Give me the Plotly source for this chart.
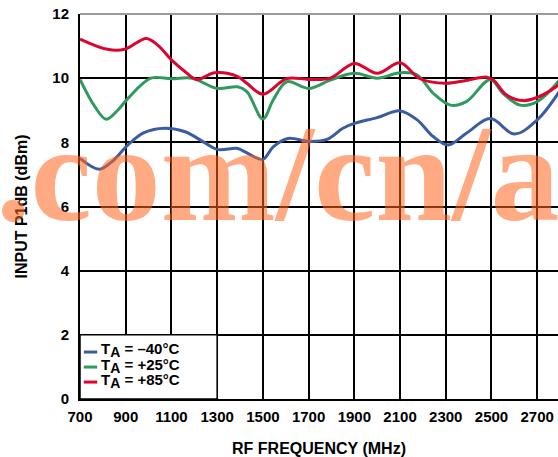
import plotly.graph_objects as go

# RF frequency (MHz) and input P1dB (dBm)
freq_m40 = [700, 785, 840, 910, 980, 1070, 1160, 1245, 1300, 1390, 1420, 1500, 1545, 1610,
            1700, 1780, 1850, 1900, 2000, 2100, 2175, 2245, 2310, 2390, 2495, 2600, 2700, 2800]
p1db_m40 = [7.50, 7.16, 7.40, 7.92, 8.30, 8.44, 8.33, 7.99, 7.78, 7.81, 7.71, 7.47, 7.86, 8.12,
            8.03, 8.09, 8.44, 8.59, 8.77, 8.98, 8.70, 8.18, 7.92, 8.28, 8.74, 8.26, 8.70, 9.62]

freq_p25 = [700, 765, 815, 865, 910, 1010, 1100, 1190, 1300, 1390, 1430, 1500, 1545, 1605,
            1700, 1795, 1900, 2000, 2100, 2175, 2245, 2320, 2390, 2495, 2550, 2625, 2700, 2800]
p1db_p25 = [9.96, 9.11, 8.72, 9.00, 9.37, 10.00, 9.98, 10.00, 9.68, 9.73, 9.58, 8.73, 9.32, 9.89,
            9.68, 9.94, 10.15, 10.00, 10.17, 10.10, 9.53, 9.16, 9.27, 9.96, 9.53, 9.16, 9.27, 9.96]

freq_p85 = [700, 820, 895, 990, 1040, 1100, 1160, 1210, 1290, 1390, 1430, 1500, 1605, 1700,
            1795, 1900, 2000, 2100, 2185, 2300, 2390, 2480, 2510, 2565, 2640, 2700, 2750, 2800]
p1db_p85 = [11.22, 10.90, 10.90, 11.24, 11.03, 10.57, 10.20, 9.96, 10.17, 10.05, 9.84, 9.50, 9.99, 9.96,
            10.00, 10.46, 10.15, 10.48, 9.99, 9.84, 9.93, 10.03, 9.93, 9.48, 9.30, 9.40, 9.58, 9.82]

x_ticks = [700, 900, 1100, 1300, 1500, 1700, 1900, 2100, 2300, 2500, 2700]
y_ticks = [0, 2, 4, 6, 8, 10, 12]

SUB_A = "<sub><span style='font-size:14px'>A</span></sub>"
legend_names = ["T" + SUB_A + " = –40°C", "T" + SUB_A + " = +25°C", "T" + SUB_A + " = +85°C"]
colors = ["#3A5CA0", "#2E9A5E", "#DC0530"]

FONT = "Liberation Sans, Arial, sans-serif"

fig = go.Figure()

series = [(freq_m40, p1db_m40), (freq_p25, p1db_p25), (freq_p85, p1db_p85)]
for (fx, fy), name, color in zip(series, legend_names, colors):
    fig.add_trace(go.Scatter(x=fx, y=fy, mode="lines", name=name, showlegend=False,
                             line=dict(color=color, width=3, shape="spline", smoothing=1.0)))

# white legend box sitting on the grid
fig.add_shape(type="rect", xref="x", yref="y", x0=700, x1=1300, y0=0, y1=2,
              fillcolor="white", line=dict(color="black", width=1.5), layer="between")
# light top border
fig.add_shape(type="line", xref="paper", yref="paper", x0=0, x1=1, y0=1, y1=1,
              line=dict(color="#9a9a9a", width=2), layer="above")

# legend entries (short line sample + label)
leg_y = [0.122, 0.083, 0.044]
for name, color, ly in zip(legend_names, colors, leg_y):
    fig.add_shape(type="line", xref="paper", yref="paper", x0=0.008, x1=0.036, y0=ly, y1=ly,
                  line=dict(color=color, width=3), layer="above")
    fig.add_annotation(text=name, xref="paper", yref="paper", x=0.040, y=ly + 0.004,
                       xanchor="left", yanchor="middle", showarrow=False,
                       font=dict(family=FONT, size=15, color="black", weight="bold"))

# watermark
fig.add_annotation(text=".com/cn/a", xref="paper", yref="paper", x=-0.18, y=0.586,
                   xanchor="left", yanchor="middle", showarrow=False,
                   font=dict(family="Liberation Serif, Times New Roman, serif", size=138,
                             color="rgba(255,100,30,0.55)", weight="bold"))

fig.update_layout(
    width=558, height=457,
    margin=dict(l=80, r=0, t=14, b=58),
    paper_bgcolor="white", plot_bgcolor="white",
    font=dict(family=FONT, size=15, color="black", weight="bold"),
    showlegend=False,
    xaxis=dict(range=[700, 2791], tickvals=x_ticks, showgrid=True, gridcolor="black", gridwidth=1.5,
               showline=True, linecolor="black", linewidth=2, zeroline=False, ticks="",
               automargin=False, ticklabelstandoff=3,
               title=dict(text="RF FREQUENCY (MHz)", font=dict(size=16, weight="bold"), standoff=19),
               tickfont=dict(size=15, weight="bold")),
    yaxis=dict(range=[0, 12], tickvals=y_ticks, showgrid=True, gridcolor="black", gridwidth=1.5,
               showline=True, linecolor="black", linewidth=2, zeroline=False, ticks="",
               automargin=False, ticklabelstandoff=6,
               title=dict(text="INPUT P1dB (dBm)", font=dict(size=16, weight="bold"), standoff=21),
               tickfont=dict(size=15, weight="bold")),
)

# drop the browser's default page margin so the figure fills the window
fig.write_html("out.html", config={"displayModeBar": False},
               post_script="document.body.style.margin='0';")
